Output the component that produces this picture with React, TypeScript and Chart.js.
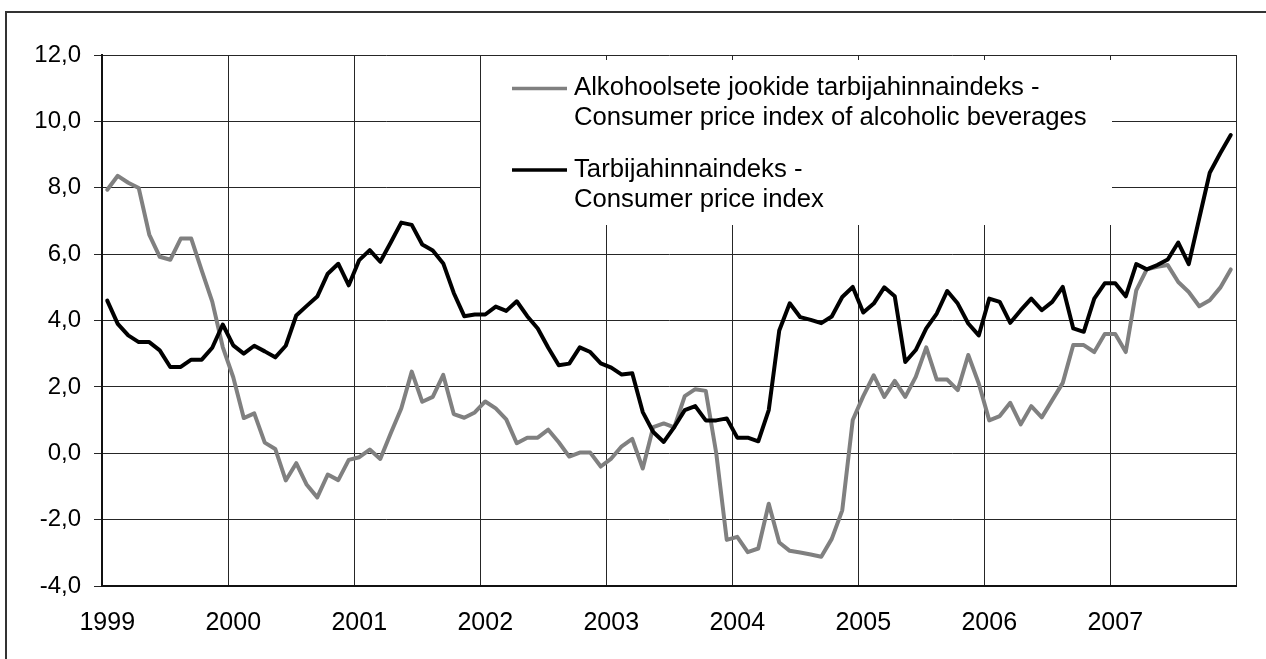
import React, { useEffect, useRef } from 'react';
import { Chart, registerables } from 'chart.js';

Chart.register(...registerables);

// ---- data ----
const yearLabels = ['1999', '2000', '2001', '2002', '2003', '2004', '2005', '2006', '2007'];
const monthCodes = ['01', '02', '03', '04', '05', '06', '07', '08', '09', '10', '11', '12'];
const categories = yearLabels.flatMap((y) => monthCodes.map((m) => `${y}-${m}`));

// Alkohoolsete jookide tarbijahinnaindeks (grey)
const alcoholCpi = [
  7.94, 8.36, 8.15, 7.99, 6.59, 5.92, 5.83, 6.47, 6.47, 5.5, 4.57, 3.2,
  2.29, 1.06, 1.2, 0.32, 0.13, -0.82, -0.3, -0.95, -1.33, -0.64, -0.81, -0.2,
  -0.12, 0.11, -0.17, 0.6, 1.35, 2.46, 1.55, 1.7, 2.36, 1.18, 1.07, 1.23,
  1.56, 1.35, 1.02, 0.3, 0.47, 0.47, 0.71, 0.33, -0.1, 0.02, 0.02, -0.4,
  -0.16, 0.21, 0.43, -0.46, 0.79, 0.9, 0.78, 1.72, 1.93, 1.88, 0.0, -2.61,
  -2.52, -2.98, -2.87, -1.52, -2.69, -2.94, -2.99, -3.05, -3.12, -2.58, -1.72, 1.0,
  1.72, 2.35, 1.7, 2.18, 1.7, 2.3, 3.19, 2.22, 2.22, 1.9, 2.96, 2.1,
  0.99, 1.12, 1.52, 0.87, 1.42, 1.08, 1.6, 2.12, 3.26, 3.26, 3.05, 3.59,
  3.59, 3.05, 4.91, 5.54, 5.62, 5.67, 5.16, 4.86, 4.43, 4.61, 4.99, 5.54,
];

// Tarbijahinnaindeks (black)
const cpi = [
  4.6, 3.9, 3.55, 3.35, 3.35, 3.1, 2.6, 2.6, 2.82, 2.82, 3.18, 3.88,
  3.25, 3.0, 3.24, 3.07, 2.89, 3.24, 4.15, 4.44, 4.72, 5.41, 5.71, 5.06,
  5.82, 6.12, 5.77, 6.35, 6.95, 6.88, 6.29, 6.11, 5.72, 4.83, 4.13, 4.18,
  4.18, 4.42, 4.29, 4.58, 4.13, 3.76, 3.18, 2.65, 2.7, 3.19, 3.05, 2.71,
  2.58, 2.37, 2.41, 1.24, 0.64, 0.34, 0.79, 1.3, 1.42, 0.99, 0.99, 1.05,
  0.47, 0.47, 0.36, 1.3, 3.7, 4.52, 4.1, 4.02, 3.92, 4.12, 4.71, 5.01,
  4.24, 4.51, 5.0, 4.73, 2.75, 3.11, 3.76, 4.21, 4.89, 4.51, 3.91, 3.55,
  4.66, 4.56, 3.93, 4.31, 4.66, 4.31, 4.56, 5.01, 3.76, 3.66, 4.66, 5.12,
  5.12, 4.73, 5.7, 5.54, 5.67, 5.84, 6.35, 5.7, 7.08, 8.45, 9.04, 9.59,
];

const yMin = -4;
const yMax = 12;
const yStep = 2;

const legendItems = [
  { lines: ['Alkohoolsete jookide tarbijahinnaindeks -', 'Consumer price index of alcoholic beverages'], color: '#808080' },
  { lines: ['Tarbijahinnaindeks -', 'Consumer price index'], color: '#000000' },
];

const FONT = '"Liberation Sans", Arial, Helvetica, sans-serif';
const GRID = '#262626';

const framePlugin = {
  id: 'frame',
  beforeDraw(chart: any) {
    const ctx = chart.ctx;
    ctx.save();
    ctx.fillStyle = '#ffffff';
    ctx.fillRect(0, 0, chart.width, chart.height);
    ctx.strokeStyle = '#333333';
    ctx.lineWidth = 2;
    ctx.strokeRect(6, 12, chart.width + 40, chart.height + 40);
    ctx.restore();
  },
  afterDatasetsDraw(chart: any) {
    const ctx = chart.ctx;
    const a = chart.chartArea;
    ctx.save();
    // legend box (white, hides the grid behind it)
    const bx = a.left + 379;
    const by = a.top + 5;
    ctx.fillStyle = '#ffffff';
    ctx.fillRect(bx, by, 631, 165);
    ctx.font = `25.7px ${FONT}`;
    ctx.textBaseline = 'alphabetic';
    ctx.textAlign = 'left';
    const baselines = [[95, 125], [177, 207]];
    const sampleY = [88.5, 170];
    legendItems.forEach((item, i) => {
      ctx.strokeStyle = item.color;
      ctx.lineWidth = 3.5;
      ctx.lineCap = 'butt';
      ctx.beginPath();
      ctx.moveTo(a.left + 410, sampleY[i]);
      ctx.lineTo(a.left + 465, sampleY[i]);
      ctx.stroke();
      ctx.fillStyle = '#000000';
      item.lines.forEach((t, j) => {
        ctx.fillText(t, a.left + 472, baselines[i][j]);
      });
    });
    ctx.restore();
  },
};

export default function App() {
  const ref = useRef<HTMLCanvasElement | null>(null);

  useEffect(() => {
    if (!ref.current) return;
    const chart = new Chart(ref.current, {
      type: 'line',
      data: {
        labels: categories,
        datasets: [
          {
            label: 'Tarbijahinnaindeks - Consumer price index',
            data: cpi,
            borderColor: '#000000',
            borderWidth: 4,
            pointRadius: 0,
            tension: 0,
            borderJoinStyle: 'round',
            borderCapStyle: 'round',
            order: 0,
          },
          {
            label: 'Alkohoolsete jookide tarbijahinnaindeks - Consumer price index of alcoholic beverages',
            data: alcoholCpi,
            borderColor: '#808080',
            borderWidth: 4,
            pointRadius: 0,
            tension: 0,
            borderJoinStyle: 'round',
            borderCapStyle: 'round',
            order: 1,
          },
        ],
      },
      options: {
        responsive: false,
        animation: false,
        devicePixelRatio: 1,
        layout: { padding: { left: 0, top: 55, right: 30, bottom: 0 } },
        plugins: {
          legend: { display: false },
          tooltip: { enabled: false },
        },
        scales: {
          x: {
            type: 'category',
            offset: true,
            afterFit: (scale: any) => {
              scale.height = 73;
            },
            grid: {
              offset: true,
              drawTicks: false,
              lineWidth: 1,
              color: (c: any) =>
                c.index === undefined || c.index % 12 === 0 ? GRID : 'rgba(0,0,0,0)',
            },
            border: { display: true, color: '#111111', width: 2 },
            ticks: {
              autoSkip: false,
              maxRotation: 0,
              minRotation: 0,
              padding: 22,
              color: '#000000',
              font: { family: FONT, size: 25 },
              callback: (_v: any, i: number) => (i % 12 === 0 ? yearLabels[i / 12] : ''),
            },
          },
          y: {
            min: yMin,
            max: yMax,
            afterFit: (scale: any) => {
              scale.width = 102;
            },
            grid: {
              color: GRID,
              lineWidth: 1,
              drawTicks: true,
              tickLength: 8,
              tickColor: GRID,
            },
            border: { display: true, color: '#111111', width: 2 },
            ticks: {
              stepSize: yStep,
              padding: 13,
              color: '#000000',
              font: { family: FONT, size: 24 },
              callback: (v: any) => Number(v).toFixed(1).replace('.', ','),
            },
          },
        },
      },
      plugins: [framePlugin],
    } as any);
    return () => chart.destroy();
  }, []);

  return (
    <div style={{ position: 'fixed', left: 0, top: 0, width: 1266, height: 659, background: '#fff' }}>
      <canvas ref={ref} width={1266} height={659} style={{ display: 'block', width: 1266, height: 659 }} />
    </div>
  );
}
